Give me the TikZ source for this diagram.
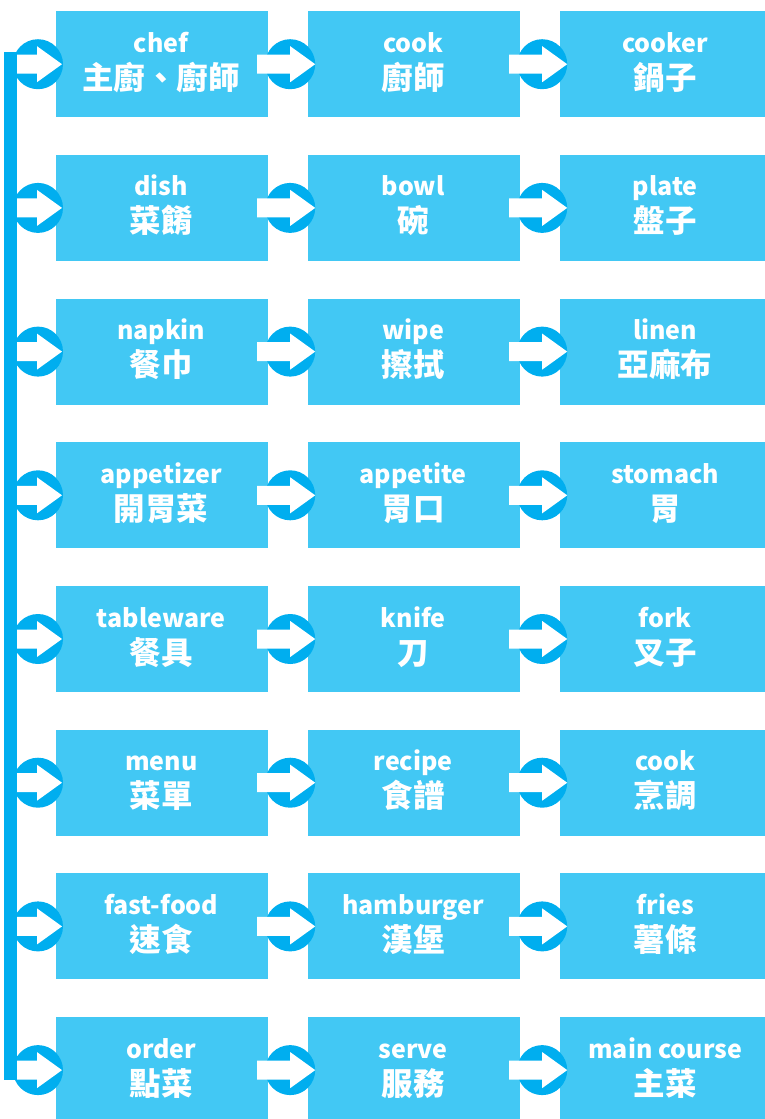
\documentclass[tikz,border=0pt]{standalone}
\usepackage{fontspec}
\setmainfont{Noto Sans CJK TC}
\usetikzlibrary{calc}
\definecolor{boxblue}{RGB}{66,200,244}
\definecolor{circblue}{RGB}{0,174,239}
\tikzset{
  box/.style={fill=boxblue, minimum width=212pt, minimum height=106pt, inner sep=0pt, anchor=north west},
  circ/.style={circle, fill=circblue, minimum size=50pt, inner sep=0pt},
  en/.style={text=white, anchor=base, inner sep=0pt, font=\fontsize{25}{28}\selectfont\bfseries},
  zh/.style={text=white, anchor=base, inner sep=0pt, font=\fontsize{31.5}{34}\selectfont\bfseries},
  barrow/.pic={\fill[white] (-33,-9.5) -- (0,-9.5) -- (0,-18) -- (25,0) -- (0,18) -- (0,9.5) -- (-33,9.5) -- cycle;}
}
\begin{document}
\begin{tikzpicture}[x=1pt,y=-1pt]
\useasboundingbox (0,0) rectangle (764,1119);
\foreach \r/\aa/\ab/\ba/\bb/\ca/\cb [evaluate=\r as \yy using 11+143.7*(\r-1)] in {
 1/chef/主廚、廚師/cook/廚師/cooker/鍋子,
 2/dish/菜餚/bowl/碗/plate/盤子,
 3/napkin/餐巾/wipe/擦拭/linen/亞麻布,
 4/appetizer/開胃菜/appetite/胃口/stomach/胃,
 5/tableware/餐具/knife/刀/fork/叉子,
 6/menu/菜單/recipe/食譜/cook/烹調,
 7/fast-food/速食/hamburger/漢堡/fries/薯條,
 8/order/點菜/serve/服務/main course/主菜}{
  \node[box] (b\r1) at (56,\yy) {};
  \node[box] (b\r2) at (308,\yy) {};
  \node[box] (b\r3) at (560,\yy) {};
  \foreach \c/\e/\z [count=\i] in {1/\aa/\ab,2/\ba/\bb,3/\ca/\cb}{
    \node[en] (e\r\c) at ([xshift=-1pt,yshift=12pt]b\r\c.center) {\e};
    \node[zh] (z\r\c) at ([xshift=-1pt,yshift=-25pt]b\r\c.center) {\z};
  }
  \node[circ] (m\r1) at ($(b\r1.east)!0.5!(b\r2.west)+(2,0)$) {};
  \node[circ] (m\r2) at ($(b\r2.east)!0.5!(b\r3.west)+(2,0)$) {};
  \node[circ] (l\r) at ([xshift=-18pt]b\r1.west) {};
  \pic at (m\r1.center) {barrow};
  \pic at (m\r2.center) {barrow};
  \pic at ([xshift=-1pt]l\r.center) {barrow};
}
\draw[circblue, line width=13pt, line cap=butt] ([xshift=-27.5pt,yshift=12pt]l1.center) -- ([xshift=-27.5pt,yshift=-10pt]l8.center);
\end{tikzpicture}
\end{document}
